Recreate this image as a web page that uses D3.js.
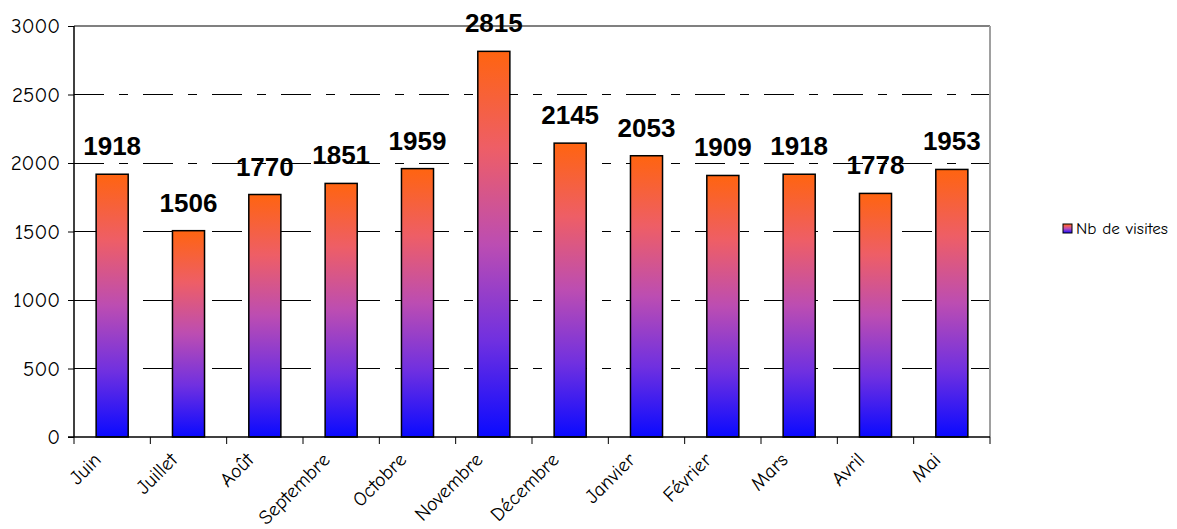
<!DOCTYPE html>
<html><head><meta charset="utf-8">
<script src="https://cdn.jsdelivr.net/npm/d3@7"></script>
<style>
body{margin:0;background:#fff;}
svg{display:block;}
</style></head>
<body>
<svg id="c" width="1177" height="529"></svg>
<script>
const months = ["Juin","Juillet","Août","Septembre","Octobre","Novembre","Décembre","Janvier","Février","Mars","Avril","Mai"];
const visits = [1918,1506,1770,1851,1959,2815,2145,2053,1909,1918,1778,1953];
const yTicks = [0,500,1000,1500,2000,2500,3000];
const seriesName = "Nb de visites";

const svg = d3.select("#c");
const m = {l:74, t:26, r:990, b:437};
const x = d3.scaleBand().domain(months).range([m.l, m.r]).paddingInner(0.58).paddingOuter(0.29);
const y = d3.scaleLinear().domain([0,3000]).range([m.b, m.t]);
const fontTick = "'Comic Sans MS','Comic Neue','DejaVu Sans',sans-serif";

const defs = svg.append("defs");
const g = defs.append("linearGradient").attr("id","grad").attr("x1",0).attr("y1",0).attr("x2",0).attr("y2",1);
[[0,"#ff6410"],[0.25,"#ee5e66"],[0.5,"#bc4db2"],[0.75,"#7030e0"],[1,"#0a0aff"]].forEach(s=>g.append("stop").attr("offset",s[0]).attr("stop-color",s[1]));

// gridlines
svg.append("g").selectAll("line").data(yTicks.filter(d=>d>0 && d<3000)).join("line")
  .attr("x1",m.l).attr("x2",m.r).attr("y1",d=>y(d)).attr("y2",d=>y(d))
  .attr("stroke","#000").attr("stroke-width",1).attr("stroke-dasharray","30,15,9,15").attr("shape-rendering","crispEdges");
// border top / right
svg.append("line").attr("x1",m.l).attr("x2",m.r).attr("y1",y(3000)).attr("y2",y(3000)).attr("stroke","#808080").attr("stroke-width",2);
svg.append("line").attr("x1",m.r).attr("x2",m.r).attr("y1",m.t).attr("y2",m.b).attr("stroke","#a0a0a0").attr("stroke-width",2);

// bars
svg.append("g").selectAll("rect").data(visits).join("rect")
  .attr("x",(d,i)=>x(months[i])).attr("width",x.bandwidth())
  .attr("y",d=>y(d)).attr("height",d=>y(0)-y(d))
  .attr("fill","url(#grad)").attr("stroke","#000").attr("stroke-width",1.5);

// value labels
svg.append("g").selectAll("text").data(visits).join("text")
  .attr("x",(d,i)=>x(months[i])+x.bandwidth()/2).attr("y",d=>y(d)-19)
  .attr("text-anchor","middle").attr("font-family","Arial,'Liberation Sans',sans-serif")
  .attr("font-weight","bold").attr("font-size",26).text(d=>d);

// y axis
const ya = svg.append("g").attr("transform",`translate(${m.l},0)`)
  .call(d3.axisLeft(y).tickValues(yTicks).tickSize(6).tickPadding(8).tickFormat(d3.format("d")));
ya.select(".domain").attr("stroke","#000").attr("stroke-width",1.5).attr("d",`M0,${m.t}V${m.b}`);
ya.selectAll(".tick line").attr("stroke","#000");
ya.selectAll("text").attr("font-family",fontTick).attr("font-size",21).attr("fill","#000");

// x axis
const xa = svg.append("g").attr("transform",`translate(0,${m.b})`);
xa.append("line").attr("x1",m.l-6).attr("x2",m.r).attr("stroke","#000").attr("stroke-width",1.5);
const bounds = months.map(mo=>x(mo)-x.step()*x.paddingInner()/2);
bounds.push(m.r);
xa.selectAll("line.tk").data(bounds).join("line").attr("class","tk")
  .attr("x1",d=>d).attr("x2",d=>d).attr("y1",0).attr("y2",7).attr("stroke","#000");
xa.selectAll("text").data(months).join("text")
  .attr("transform",d=>`translate(${x(d)+x.bandwidth()/2-10},${24}) rotate(-45)`)
  .attr("text-anchor","end").attr("font-family",fontTick).attr("font-size",20).text(d=>d);

// legend
svg.append("rect").attr("x",1063).attr("y",224).attr("width",9).attr("height",9)
  .attr("fill","url(#grad)").attr("stroke","#000").attr("stroke-width",1);
svg.append("text").attr("x",1076).attr("y",234).attr("font-family",fontTick).attr("font-size",15)
  .attr("textLength",92).attr("lengthAdjust","spacingAndGlyphs").text(seriesName);
</script>
</body></html>
